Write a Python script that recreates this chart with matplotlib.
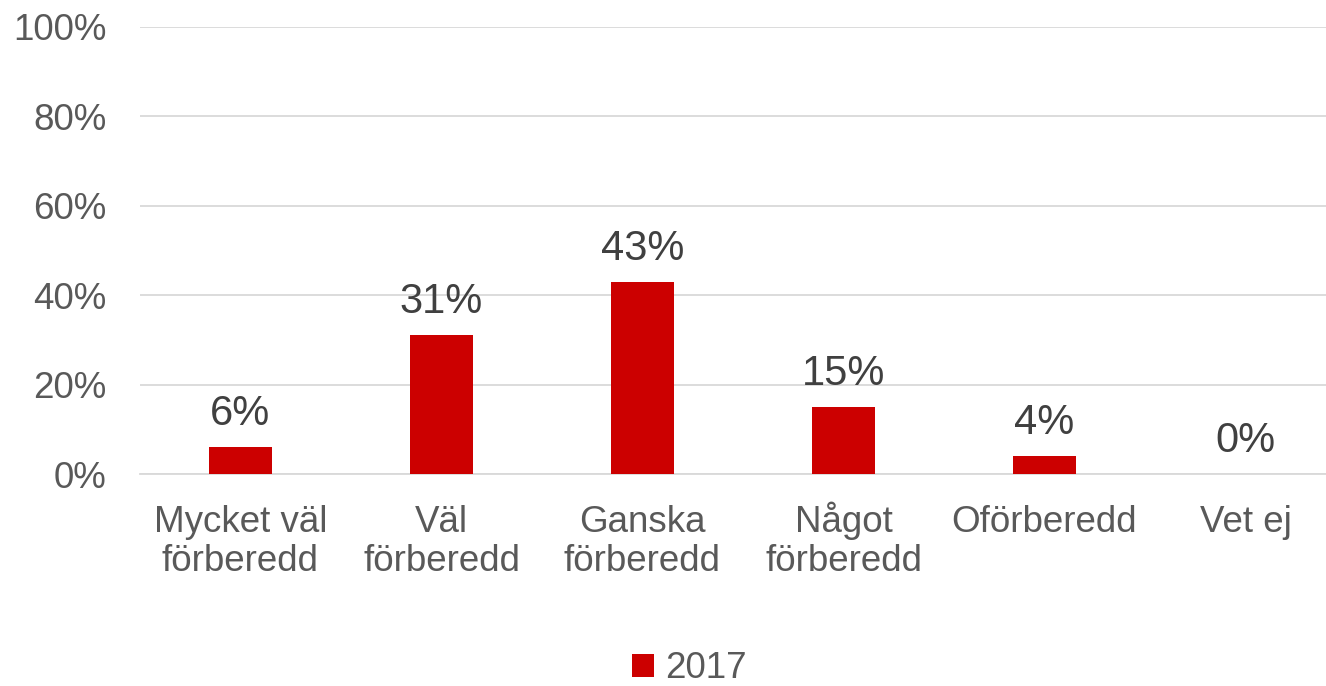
import matplotlib.pyplot as plt

plt.rcParams['font.family'] = ['Liberation Sans', 'DejaVu Sans']

categories = ['Mycket väl\nförberedd', 'Väl\nförberedd', 'Ganska\nförberedd',
              'Något\nförberedd', 'Oförberedd', 'Vet ej']
values_2017 = [6, 31, 43, 15, 4, 0]
yticks = [0, 20, 40, 60, 80, 100]

text_col = '#595959'
label_col = '#404040'
bar_col = '#CC0000'
fs = 26.5

fig = plt.figure(figsize=(13.26, 6.86), dpi=100)
ax = fig.add_axes([140 / 1326, 1 - 474 / 686, 1206 / 1326, 447 / 686])

x = list(range(len(categories)))
bars = ax.bar(x, values_2017, width=0.31, color=bar_col, label='2017', zorder=3)

# value labels above bars
for xi, v in zip(x, values_2017):
    ax.annotate(f'{v}%', xy=(xi, v), xytext=(0, 22), textcoords='offset pixels',
                ha='center', va='baseline', fontsize=30, color=label_col)

# category labels, one line at a time so every line sits on the same baseline
for xi, cat in zip(x, categories):
    for k, line in enumerate(cat.split('\n')):
        ax.annotate(line, xy=(xi, 0), xycoords=('data', 'axes fraction'),
                    xytext=(0, -58 - 39 * k), textcoords='offset pixels',
                    ha='center', va='baseline', fontsize=fs, color=text_col)

ax.set_xlim(-0.5, len(categories) - 0.5)
ax.set_ylim(0, 100)
ax.set_yticks(yticks)
ax.set_yticklabels([f'{t}%' for t in yticks])
ax.set_xticks(x)
ax.set_xticklabels([])
ax.tick_params(axis='both', length=0, labelsize=fs, labelcolor=text_col)
ax.tick_params(axis='y', pad=24)
ax.grid(axis='y', color='#D9D9D9', linewidth=1.3, zorder=0)
for s in ['top', 'right', 'left']:
    ax.spines[s].set_visible(False)
ax.spines['bottom'].set_color('#D9D9D9')
ax.spines['bottom'].set_linewidth(1.3)

fig.legend(handles=[bars], labels=['2017'], loc='center', bbox_to_anchor=(0.52, 0.025),
           frameon=False, fontsize=fs, labelcolor=text_col, handlelength=0.6,
           handleheight=0.6, handletextpad=0.3)

fig.savefig('out.png', dpi=100)
